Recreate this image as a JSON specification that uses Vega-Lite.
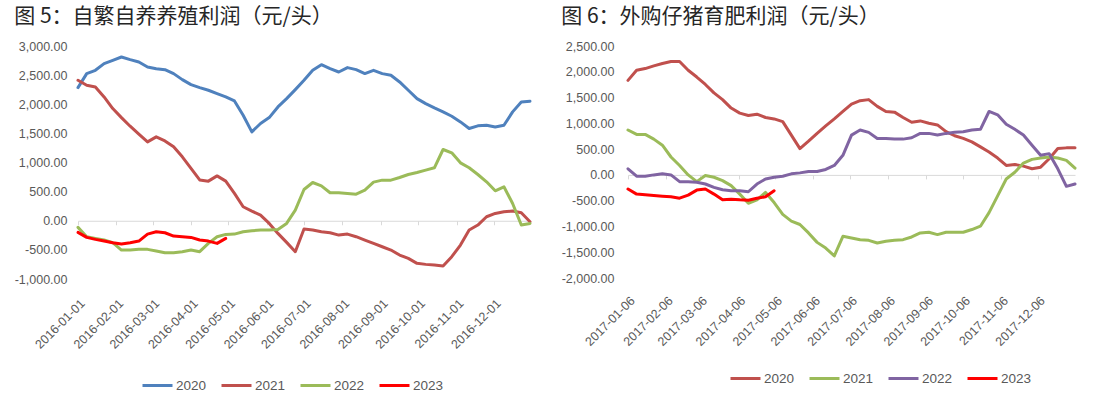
{
  "$schema": "https://vega.github.io/schema/vega-lite/v6.json",
  "background": "white",
  "padding": {"left": 14, "top": 6, "right": 5, "bottom": 5},
  "bounds": "flush",
  "spacing": 98,
  "config": {
    "view": {"stroke": null},
    "font": "Liberation Sans",
    "locale": {"number": {"decimal": ".", "thousands": ",", "grouping": [3], "currency": ["", ""], "minus": "-"}},
    "axis": {"labelColor": "#595959", "labelFontSize": 12.5, "grid": false},
    "line": {"strokeJoin": "round", "strokeCap": "round"}
  },
  "datasets": {
    "left": [
      {"d":"2016-01-01","s":"2020","v":2286},{"d":"2016-01-08","s":"2020","v":2526},{"d":"2016-01-15","s":"2020","v":2583},{"d":"2016-01-22","s":"2020","v":2697},{"d":"2016-01-29","s":"2020","v":2754},{"d":"2016-02-05","s":"2020","v":2811},{"d":"2016-02-12","s":"2020","v":2766},{"d":"2016-02-19","s":"2020","v":2726},{"d":"2016-02-26","s":"2020","v":2640},{"d":"2016-03-04","s":"2020","v":2611},{"d":"2016-03-11","s":"2020","v":2594},{"d":"2016-03-18","s":"2020","v":2526},{"d":"2016-03-25","s":"2020","v":2423},{"d":"2016-04-01","s":"2020","v":2337},{"d":"2016-04-08","s":"2020","v":2286},{"d":"2016-04-15","s":"2020","v":2240},{"d":"2016-04-22","s":"2020","v":2183},{"d":"2016-04-29","s":"2020","v":2126},{"d":"2016-05-06","s":"2020","v":2057},{"d":"2016-05-13","s":"2020","v":1811},{"d":"2016-05-20","s":"2020","v":1526},{"d":"2016-05-27","s":"2020","v":1669},{"d":"2016-06-03","s":"2020","v":1771},{"d":"2016-06-10","s":"2020","v":1954},{"d":"2016-06-17","s":"2020","v":2097},{"d":"2016-06-24","s":"2020","v":2251},{"d":"2016-07-01","s":"2020","v":2411},{"d":"2016-07-08","s":"2020","v":2583},{"d":"2016-07-15","s":"2020","v":2680},{"d":"2016-07-22","s":"2020","v":2611},{"d":"2016-07-29","s":"2020","v":2554},{"d":"2016-08-05","s":"2020","v":2629},{"d":"2016-08-12","s":"2020","v":2594},{"d":"2016-08-19","s":"2020","v":2526},{"d":"2016-08-26","s":"2020","v":2583},{"d":"2016-09-02","s":"2020","v":2526},{"d":"2016-09-09","s":"2020","v":2497},{"d":"2016-09-16","s":"2020","v":2383},{"d":"2016-09-23","s":"2020","v":2240},{"d":"2016-09-30","s":"2020","v":2097},{"d":"2016-10-07","s":"2020","v":2011},{"d":"2016-10-14","s":"2020","v":1937},{"d":"2016-10-21","s":"2020","v":1869},{"d":"2016-10-28","s":"2020","v":1794},{"d":"2016-11-04","s":"2020","v":1697},{"d":"2016-11-11","s":"2020","v":1583},{"d":"2016-11-18","s":"2020","v":1629},{"d":"2016-11-25","s":"2020","v":1640},{"d":"2016-12-02","s":"2020","v":1611},{"d":"2016-12-09","s":"2020","v":1640},{"d":"2016-12-16","s":"2020","v":1869},{"d":"2016-12-23","s":"2020","v":2040},{"d":"2016-12-30","s":"2020","v":2051},
      {"d":"2016-01-01","s":"2021","v":2411},{"d":"2016-01-08","s":"2021","v":2326},{"d":"2016-01-15","s":"2021","v":2297},{"d":"2016-01-22","s":"2021","v":2126},{"d":"2016-01-29","s":"2021","v":1926},{"d":"2016-02-05","s":"2021","v":1771},{"d":"2016-02-12","s":"2021","v":1623},{"d":"2016-02-19","s":"2021","v":1486},{"d":"2016-02-26","s":"2021","v":1354},{"d":"2016-03-04","s":"2021","v":1440},{"d":"2016-03-11","s":"2021","v":1371},{"d":"2016-03-18","s":"2021","v":1269},{"d":"2016-03-25","s":"2021","v":1097},{"d":"2016-04-01","s":"2021","v":900},{"d":"2016-04-08","s":"2021","v":700},{"d":"2016-04-15","s":"2021","v":680},{"d":"2016-04-22","s":"2021","v":770},{"d":"2016-04-29","s":"2021","v":680},{"d":"2016-05-06","s":"2021","v":470},{"d":"2016-05-13","s":"2021","v":240},{"d":"2016-05-20","s":"2021","v":166},{"d":"2016-05-27","s":"2021","v":97},{"d":"2016-06-03","s":"2021","v":-46},{"d":"2016-06-10","s":"2021","v":-217},{"d":"2016-06-17","s":"2021","v":-371},{"d":"2016-06-24","s":"2021","v":-531},{"d":"2016-07-01","s":"2021","v":-143},{"d":"2016-07-08","s":"2021","v":-160},{"d":"2016-07-15","s":"2021","v":-189},{"d":"2016-07-22","s":"2021","v":-206},{"d":"2016-07-29","s":"2021","v":-246},{"d":"2016-08-05","s":"2021","v":-229},{"d":"2016-08-12","s":"2021","v":-274},{"d":"2016-08-19","s":"2021","v":-331},{"d":"2016-08-26","s":"2021","v":-389},{"d":"2016-09-02","s":"2021","v":-446},{"d":"2016-09-09","s":"2021","v":-503},{"d":"2016-09-16","s":"2021","v":-589},{"d":"2016-09-23","s":"2021","v":-646},{"d":"2016-09-30","s":"2021","v":-731},{"d":"2016-10-07","s":"2021","v":-749},{"d":"2016-10-14","s":"2021","v":-760},{"d":"2016-10-21","s":"2021","v":-777},{"d":"2016-10-28","s":"2021","v":-617},{"d":"2016-11-04","s":"2021","v":-417},{"d":"2016-11-11","s":"2021","v":-160},{"d":"2016-11-18","s":"2021","v":-74},{"d":"2016-11-25","s":"2021","v":69},{"d":"2016-12-02","s":"2021","v":126},{"d":"2016-12-09","s":"2021","v":154},{"d":"2016-12-16","s":"2021","v":166},{"d":"2016-12-23","s":"2021","v":137},{"d":"2016-12-30","s":"2021","v":-17},
      {"d":"2016-01-01","s":"2022","v":-114},{"d":"2016-01-08","s":"2022","v":-274},{"d":"2016-01-15","s":"2022","v":-303},{"d":"2016-01-22","s":"2022","v":-331},{"d":"2016-01-29","s":"2022","v":-377},{"d":"2016-02-05","s":"2022","v":-503},{"d":"2016-02-12","s":"2022","v":-503},{"d":"2016-02-19","s":"2022","v":-491},{"d":"2016-02-26","s":"2022","v":-491},{"d":"2016-03-04","s":"2022","v":-520},{"d":"2016-03-11","s":"2022","v":-549},{"d":"2016-03-18","s":"2022","v":-549},{"d":"2016-03-25","s":"2022","v":-531},{"d":"2016-04-01","s":"2022","v":-503},{"d":"2016-04-08","s":"2022","v":-531},{"d":"2016-04-15","s":"2022","v":-389},{"d":"2016-04-22","s":"2022","v":-274},{"d":"2016-04-29","s":"2022","v":-234},{"d":"2016-05-06","s":"2022","v":-229},{"d":"2016-05-13","s":"2022","v":-189},{"d":"2016-05-20","s":"2022","v":-171},{"d":"2016-05-27","s":"2022","v":-160},{"d":"2016-06-03","s":"2022","v":-160},{"d":"2016-06-10","s":"2022","v":-149},{"d":"2016-06-17","s":"2022","v":-46},{"d":"2016-06-24","s":"2022","v":183},{"d":"2016-07-01","s":"2022","v":537},{"d":"2016-07-08","s":"2022","v":657},{"d":"2016-07-15","s":"2022","v":600},{"d":"2016-07-22","s":"2022","v":480},{"d":"2016-07-29","s":"2022","v":480},{"d":"2016-08-05","s":"2022","v":469},{"d":"2016-08-12","s":"2022","v":457},{"d":"2016-08-19","s":"2022","v":526},{"d":"2016-08-26","s":"2022","v":663},{"d":"2016-09-02","s":"2022","v":697},{"d":"2016-09-09","s":"2022","v":697},{"d":"2016-09-16","s":"2022","v":743},{"d":"2016-09-23","s":"2022","v":794},{"d":"2016-09-30","s":"2022","v":829},{"d":"2016-10-07","s":"2022","v":869},{"d":"2016-10-14","s":"2022","v":909},{"d":"2016-10-21","s":"2022","v":1223},{"d":"2016-10-28","s":"2022","v":1166},{"d":"2016-11-04","s":"2022","v":994},{"d":"2016-11-11","s":"2022","v":909},{"d":"2016-11-18","s":"2022","v":794},{"d":"2016-11-25","s":"2022","v":669},{"d":"2016-12-02","s":"2022","v":514},{"d":"2016-12-09","s":"2022","v":583},{"d":"2016-12-16","s":"2022","v":297},{"d":"2016-12-23","s":"2022","v":-74},{"d":"2016-12-30","s":"2022","v":-46},
      {"d":"2016-01-01","s":"2023","v":-200},{"d":"2016-01-08","s":"2023","v":-286},{"d":"2016-01-15","s":"2023","v":-320},{"d":"2016-01-22","s":"2023","v":-349},{"d":"2016-01-29","s":"2023","v":-377},{"d":"2016-02-05","s":"2023","v":-400},{"d":"2016-02-12","s":"2023","v":-377},{"d":"2016-02-19","s":"2023","v":-349},{"d":"2016-02-26","s":"2023","v":-229},{"d":"2016-03-04","s":"2023","v":-189},{"d":"2016-03-11","s":"2023","v":-206},{"d":"2016-03-18","s":"2023","v":-263},{"d":"2016-03-25","s":"2023","v":-274},{"d":"2016-04-01","s":"2023","v":-286},{"d":"2016-04-08","s":"2023","v":-331},{"d":"2016-04-15","s":"2023","v":-349},{"d":"2016-04-22","s":"2023","v":-389},{"d":"2016-04-29","s":"2023","v":-303}
    ],
    "right": [
      {"d":"2017-01-06","s":"2020","v":1833},{"d":"2017-01-13","s":"2020","v":2029},{"d":"2017-01-20","s":"2020","v":2062},{"d":"2017-01-27","s":"2020","v":2114},{"d":"2017-02-03","s":"2020","v":2160},{"d":"2017-02-10","s":"2020","v":2199},{"d":"2017-02-17","s":"2020","v":2199},{"d":"2017-02-24","s":"2020","v":2029},{"d":"2017-03-03","s":"2020","v":1898},{"d":"2017-03-10","s":"2020","v":1754},{"d":"2017-03-17","s":"2020","v":1590},{"d":"2017-03-24","s":"2020","v":1460},{"d":"2017-03-31","s":"2020","v":1296},{"d":"2017-04-07","s":"2020","v":1198},{"d":"2017-04-14","s":"2020","v":1152},{"d":"2017-04-21","s":"2020","v":1178},{"d":"2017-04-28","s":"2020","v":1113},{"d":"2017-05-05","s":"2020","v":1086},{"d":"2017-05-12","s":"2020","v":1034},{"d":"2017-05-19","s":"2020","v":772},{"d":"2017-05-26","s":"2020","v":510},{"d":"2017-06-02","s":"2020","v":654},{"d":"2017-06-09","s":"2020","v":805},{"d":"2017-06-16","s":"2020","v":949},{"d":"2017-06-23","s":"2020","v":1086},{"d":"2017-06-30","s":"2020","v":1230},{"d":"2017-07-07","s":"2020","v":1374},{"d":"2017-07-14","s":"2020","v":1440},{"d":"2017-07-21","s":"2020","v":1460},{"d":"2017-07-28","s":"2020","v":1329},{"d":"2017-08-04","s":"2020","v":1230},{"d":"2017-08-11","s":"2020","v":1217},{"d":"2017-08-18","s":"2020","v":1113},{"d":"2017-08-25","s":"2020","v":1021},{"d":"2017-09-01","s":"2020","v":1047},{"d":"2017-09-08","s":"2020","v":1001},{"d":"2017-09-15","s":"2020","v":969},{"d":"2017-09-22","s":"2020","v":838},{"d":"2017-09-29","s":"2020","v":759},{"d":"2017-10-06","s":"2020","v":707},{"d":"2017-10-13","s":"2020","v":641},{"d":"2017-10-20","s":"2020","v":543},{"d":"2017-10-27","s":"2020","v":445},{"d":"2017-11-03","s":"2020","v":327},{"d":"2017-11-10","s":"2020","v":183},{"d":"2017-11-17","s":"2020","v":203},{"d":"2017-11-24","s":"2020","v":170},{"d":"2017-12-01","s":"2020","v":118},{"d":"2017-12-08","s":"2020","v":150},{"d":"2017-12-15","s":"2020","v":314},{"d":"2017-12-22","s":"2020","v":510},{"d":"2017-12-29","s":"2020","v":524},{"d":"2018-01-05","s":"2020","v":524},
      {"d":"2017-01-06","s":"2021","v":870},{"d":"2017-01-13","s":"2021","v":785},{"d":"2017-01-20","s":"2021","v":785},{"d":"2017-01-27","s":"2021","v":694},{"d":"2017-02-03","s":"2021","v":576},{"d":"2017-02-10","s":"2021","v":347},{"d":"2017-02-17","s":"2021","v":183},{"d":"2017-02-24","s":"2021","v":0},{"d":"2017-03-03","s":"2021","v":-131},{"d":"2017-03-10","s":"2021","v":-13},{"d":"2017-03-17","s":"2021","v":-46},{"d":"2017-03-24","s":"2021","v":-111},{"d":"2017-03-31","s":"2021","v":-209},{"d":"2017-04-07","s":"2021","v":-373},{"d":"2017-04-14","s":"2021","v":-550},{"d":"2017-04-21","s":"2021","v":-484},{"d":"2017-04-28","s":"2021","v":-340},{"d":"2017-05-05","s":"2021","v":-537},{"d":"2017-05-12","s":"2021","v":-766},{"d":"2017-05-19","s":"2021","v":-897},{"d":"2017-05-26","s":"2021","v":-962},{"d":"2017-06-02","s":"2021","v":-1126},{"d":"2017-06-09","s":"2021","v":-1309},{"d":"2017-06-16","s":"2021","v":-1420},{"d":"2017-06-23","s":"2021","v":-1571},{"d":"2017-06-30","s":"2021","v":-1191},{"d":"2017-07-07","s":"2021","v":-1224},{"d":"2017-07-14","s":"2021","v":-1257},{"d":"2017-07-21","s":"2021","v":-1270},{"d":"2017-07-28","s":"2021","v":-1322},{"d":"2017-08-04","s":"2021","v":-1289},{"d":"2017-08-11","s":"2021","v":-1270},{"d":"2017-08-18","s":"2021","v":-1257},{"d":"2017-08-25","s":"2021","v":-1204},{"d":"2017-09-01","s":"2021","v":-1126},{"d":"2017-09-08","s":"2021","v":-1113},{"d":"2017-09-15","s":"2021","v":-1158},{"d":"2017-09-22","s":"2021","v":-1113},{"d":"2017-09-29","s":"2021","v":-1113},{"d":"2017-10-06","s":"2021","v":-1113},{"d":"2017-10-13","s":"2021","v":-1060},{"d":"2017-10-20","s":"2021","v":-995},{"d":"2017-10-27","s":"2021","v":-733},{"d":"2017-11-03","s":"2021","v":-406},{"d":"2017-11-10","s":"2021","v":-79},{"d":"2017-11-17","s":"2021","v":52},{"d":"2017-11-24","s":"2021","v":229},{"d":"2017-12-01","s":"2021","v":301},{"d":"2017-12-08","s":"2021","v":327},{"d":"2017-12-15","s":"2021","v":347},{"d":"2017-12-22","s":"2021","v":327},{"d":"2017-12-29","s":"2021","v":281},{"d":"2018-01-05","s":"2021","v":131},
      {"d":"2017-01-06","s":"2022","v":118},{"d":"2017-01-13","s":"2022","v":-26},{"d":"2017-01-20","s":"2022","v":-26},{"d":"2017-01-27","s":"2022","v":0},{"d":"2017-02-03","s":"2022","v":20},{"d":"2017-02-10","s":"2022","v":0},{"d":"2017-02-17","s":"2022","v":-131},{"d":"2017-02-24","s":"2022","v":-131},{"d":"2017-03-03","s":"2022","v":-144},{"d":"2017-03-10","s":"2022","v":-177},{"d":"2017-03-17","s":"2022","v":-242},{"d":"2017-03-24","s":"2022","v":-288},{"d":"2017-03-31","s":"2022","v":-308},{"d":"2017-04-07","s":"2022","v":-308},{"d":"2017-04-14","s":"2022","v":-327},{"d":"2017-04-21","s":"2022","v":-177},{"d":"2017-04-28","s":"2022","v":-79},{"d":"2017-05-05","s":"2022","v":-46},{"d":"2017-05-12","s":"2022","v":-26},{"d":"2017-05-19","s":"2022","v":20},{"d":"2017-05-26","s":"2022","v":39},{"d":"2017-06-02","s":"2022","v":65},{"d":"2017-06-09","s":"2022","v":65},{"d":"2017-06-16","s":"2022","v":105},{"d":"2017-06-23","s":"2022","v":183},{"d":"2017-06-30","s":"2022","v":380},{"d":"2017-07-07","s":"2022","v":772},{"d":"2017-07-14","s":"2022","v":870},{"d":"2017-07-21","s":"2022","v":825},{"d":"2017-07-28","s":"2022","v":707},{"d":"2017-08-04","s":"2022","v":707},{"d":"2017-08-11","s":"2022","v":694},{"d":"2017-08-18","s":"2022","v":694},{"d":"2017-08-25","s":"2022","v":720},{"d":"2017-09-01","s":"2022","v":805},{"d":"2017-09-08","s":"2022","v":805},{"d":"2017-09-15","s":"2022","v":772},{"d":"2017-09-22","s":"2022","v":805},{"d":"2017-09-29","s":"2022","v":825},{"d":"2017-10-06","s":"2022","v":838},{"d":"2017-10-13","s":"2022","v":870},{"d":"2017-10-20","s":"2022","v":884},{"d":"2017-10-27","s":"2022","v":1230},{"d":"2017-11-03","s":"2022","v":1165},{"d":"2017-11-10","s":"2022","v":982},{"d":"2017-11-17","s":"2022","v":884},{"d":"2017-11-24","s":"2022","v":772},{"d":"2017-12-01","s":"2022","v":576},{"d":"2017-12-08","s":"2022","v":380},{"d":"2017-12-15","s":"2022","v":412},{"d":"2017-12-22","s":"2022","v":118},{"d":"2017-12-29","s":"2022","v":-222},{"d":"2018-01-05","s":"2022","v":-177},
      {"d":"2017-01-06","s":"2023","v":-275},{"d":"2017-01-13","s":"2023","v":-373},{"d":"2017-01-20","s":"2023","v":-386},{"d":"2017-01-27","s":"2023","v":-399},{"d":"2017-02-03","s":"2023","v":-412},{"d":"2017-02-10","s":"2023","v":-425},{"d":"2017-02-17","s":"2023","v":-452},{"d":"2017-02-24","s":"2023","v":-393},{"d":"2017-03-03","s":"2023","v":-295},{"d":"2017-03-10","s":"2023","v":-275},{"d":"2017-03-17","s":"2023","v":-373},{"d":"2017-03-24","s":"2023","v":-484},{"d":"2017-03-31","s":"2023","v":-471},{"d":"2017-04-07","s":"2023","v":-484},{"d":"2017-04-14","s":"2023","v":-491},{"d":"2017-04-21","s":"2023","v":-452},{"d":"2017-04-28","s":"2023","v":-425},{"d":"2017-05-05","s":"2023","v":-308}
    ]
  },
  "hconcat": [
    {
      "width": 452,
      "height": 233,
      "title": {"text": "图 5：自繁自养养殖利润（元/头）", "anchor": "start", "frame": "bounds", "font": "Noto Sans CJK SC", "fontSize": 21, "fontWeight": "normal", "color": "#262626", "offset": 13},
      "data": {"name": "left"},
      "mark": {"type": "line"},
      "encoding": {
        "x": {"field": "d", "type": "temporal", "title": null,
          "scale": {"type": "utc", "domain": [{"year": 2016, "month": 1, "date": 1, "utc": true}, {"year": 2016, "month": 12, "date": 30, "utc": true}]},
          "axis": {"values": [{"year":2016,"month":1,"date":1,"utc":true},{"year":2016,"month":2,"date":1,"utc":true},{"year":2016,"month":3,"date":1,"utc":true},{"year":2016,"month":4,"date":1,"utc":true},{"year":2016,"month":5,"date":1,"utc":true},{"year":2016,"month":6,"date":1,"utc":true},{"year":2016,"month":7,"date":1,"utc":true},{"year":2016,"month":8,"date":1,"utc":true},{"year":2016,"month":9,"date":1,"utc":true},{"year":2016,"month":10,"date":1,"utc":true},{"year":2016,"month":11,"date":1,"utc":true},{"year":2016,"month":12,"date":1,"utc":true}],
            "labelExpr": "utcFormat(datum.value, '%Y-%m-%d')", "labelAngle": -45, "offset": -58.25, "domainColor": "#d9d9d9", "tickColor": "#d9d9d9", "tickSize": 4, "labelPadding": 72, "labelOverlap": false, "labelFlush": false}},
        "y": {"field": "v", "type": "quantitative", "title": null,
          "scale": {"domain": [-1000, 3000]},
          "axis": {"values": [-1000, -500, 0, 500, 1000, 1500, 2000, 2500, 3000], "format": ",.2f", "domain": false, "ticks": false, "labelPadding": 11}},
        "color": {"field": "s", "type": "nominal",
          "scale": {"domain": ["2020", "2021", "2022", "2023"], "range": ["#4f81bd", "#c0504d", "#9bbb59", "#ff0000"]},
          "legend": {"orient": "none", "legendX": 63, "legendY": 323, "direction": "horizontal", "title": null, "symbolType": "stroke", "symbolSize": 900, "symbolStrokeWidth": 4, "labelFontSize": 13.5, "labelColor": "#595959", "columnPadding": 13, "labelOffset": 2}},
        "strokeWidth": {"field": "s", "type": "ordinal", "scale": {"domain": ["2020", "2021", "2022", "2023"], "range": [3, 3, 3, 4]}, "legend": null}
      }
    },
    {
      "width": 447,
      "height": 232,
      "title": {"text": "图 6：外购仔猪育肥利润（元/头）", "anchor": "start", "frame": "bounds", "font": "Noto Sans CJK SC", "fontSize": 21, "fontWeight": "normal", "color": "#262626", "offset": 13},
      "data": {"name": "right"},
      "mark": {"type": "line"},
      "encoding": {
        "x": {"field": "d", "type": "temporal", "title": null,
          "scale": {"type": "utc", "domain": [{"year": 2017, "month": 1, "date": 6, "utc": true}, {"year": 2018, "month": 1, "date": 5, "utc": true}]},
          "axis": {"values": [{"year":2017,"month":1,"date":6,"utc":true},{"year":2017,"month":2,"date":6,"utc":true},{"year":2017,"month":3,"date":6,"utc":true},{"year":2017,"month":4,"date":6,"utc":true},{"year":2017,"month":5,"date":6,"utc":true},{"year":2017,"month":6,"date":6,"utc":true},{"year":2017,"month":7,"date":6,"utc":true},{"year":2017,"month":8,"date":6,"utc":true},{"year":2017,"month":9,"date":6,"utc":true},{"year":2017,"month":10,"date":6,"utc":true},{"year":2017,"month":11,"date":6,"utc":true},{"year":2017,"month":12,"date":6,"utc":true}],
            "labelExpr": "utcFormat(datum.value, '%Y-%m-%d')", "labelAngle": -45, "offset": -103.1, "domainColor": "#d9d9d9", "tickColor": "#d9d9d9", "tickSize": 4, "labelPadding": 115, "labelOverlap": false, "labelFlush": false}},
        "y": {"field": "v", "type": "quantitative", "title": null,
          "scale": {"domain": [-2000, 2500]},
          "axis": {"values": [-2000, -1500, -1000, -500, 0, 500, 1000, 1500, 2000, 2500], "format": ",.2f", "domain": false, "ticks": false, "labelPadding": 14}},
        "color": {"field": "s", "type": "nominal",
          "scale": {"domain": ["2020", "2021", "2022", "2023"], "range": ["#c0504d", "#9bbb59", "#8064a2", "#ff0000"]},
          "legend": {"orient": "none", "legendX": 101, "legendY": 316, "direction": "horizontal", "title": null, "symbolType": "stroke", "symbolSize": 900, "symbolStrokeWidth": 4, "labelFontSize": 13.5, "labelColor": "#595959", "columnPadding": 13, "labelOffset": 2}},
        "strokeWidth": {"field": "s", "type": "ordinal", "scale": {"domain": ["2020", "2021", "2022", "2023"], "range": [3, 3, 3, 4]}, "legend": null}
      }
    }
  ],
  "resolve": {"scale": {"color": "independent", "strokeWidth": "independent", "x": "independent", "y": "independent"}, "legend": {"color": "independent"}}
}
